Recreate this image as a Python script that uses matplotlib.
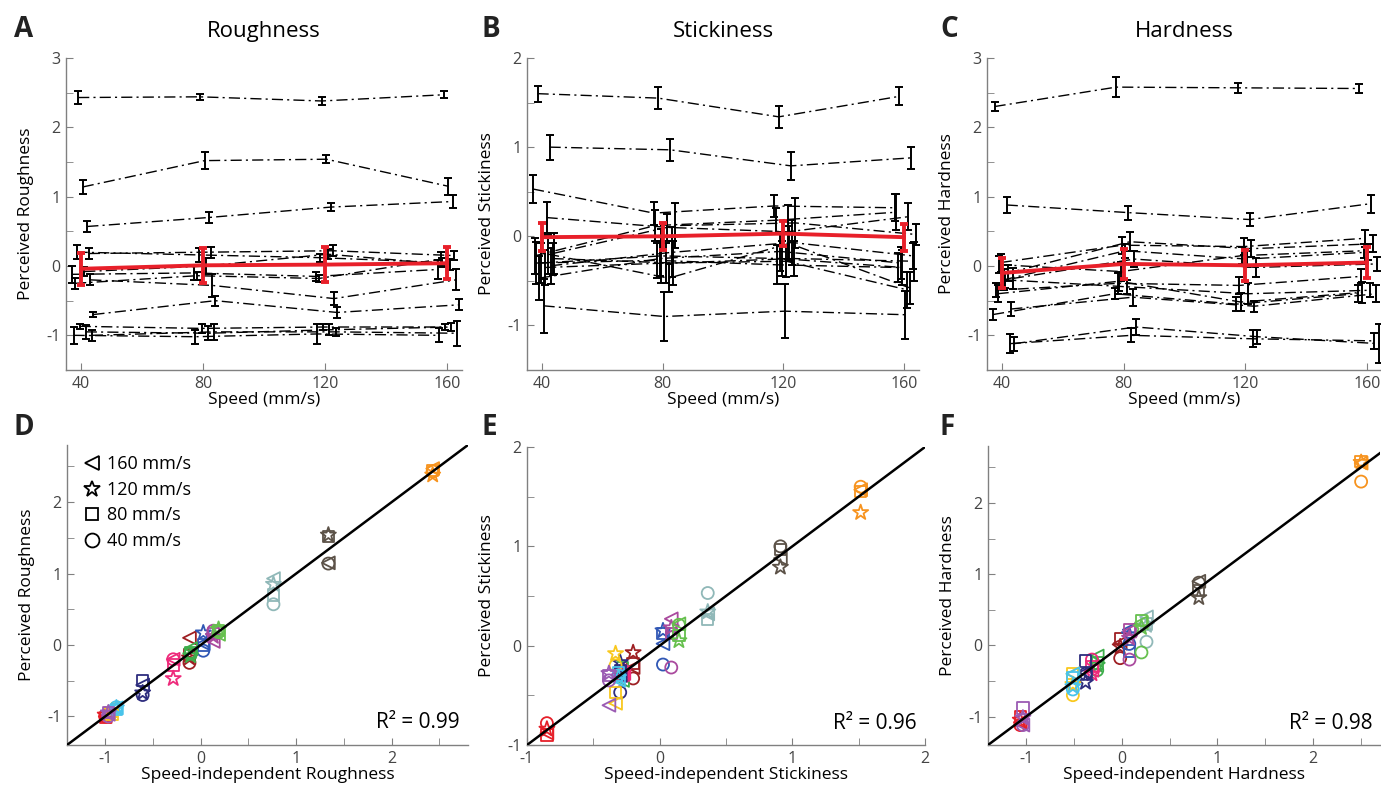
import numpy as np
import matplotlib

matplotlib.use("Agg")
import matplotlib.pyplot as plt
import matplotlib.ticker as mticker
from matplotlib.lines import Line2D

plt.rcParams["font.family"] = ["Open Sans", "DejaVu Sans"]
plt.rcParams["axes.unicode_minus"] = False

# ---------------------------------------------------------------------------
# Data
# ---------------------------------------------------------------------------
speeds = [40, 80, 120, 160]

texture_colors = [
    "#F7931E", "#5C5248", "#90B8B8", "#9E1F23", "#3057B5", "#AA4A9E", "#66C04E",
    "#3DAE4B", "#EE2A7B", "#2E2D7E", "#E6202A", "#F9C81E", "#48C3EA", "#9B5BB3",
]

rough_mean = [
    [2.43, 2.44, 2.38, 2.47], [1.14, 1.52, 1.54, 1.15], [0.57, 0.70, 0.85, 0.93],
    [-0.25, -0.14, -0.18, 0.10], [-0.08, 0.00, 0.17, 0.02], [0.20, 0.16, 0.12, 0.05],
    [0.18, 0.20, 0.22, 0.15], [-0.12, -0.10, -0.15, -0.05], [-0.20, -0.28, -0.47, -0.20],
    [-0.70, -0.50, -0.67, -0.56], [-1.00, -1.02, -0.98, -1.00], [-0.95, -0.97, -0.92, -0.88],
    [-0.87, -0.90, -0.88, -0.88], [-1.00, -0.95, -0.95, -0.97],
]
rough_sem = [
    [0.10, 0.04, 0.06, 0.05], [0.10, 0.12, 0.06, 0.12], [0.08, 0.08, 0.06, 0.10],
    [0.08, 0.06, 0.05, 0.10], [0.07, 0.12, 0.07, 0.08], [0.10, 0.10, 0.06, 0.06],
    [0.08, 0.08, 0.08, 0.07], [0.12, 0.10, 0.06, 0.14], [0.08, 0.16, 0.09, 0.15],
    [0.04, 0.07, 0.08, 0.08], [0.12, 0.10, 0.14, 0.10], [0.10, 0.10, 0.08, 0.06],
    [0.04, 0.06, 0.05, 0.05], [0.08, 0.12, 0.06, 0.18],
]

stick_mean = [
    [1.60, 1.55, 1.34, 1.57], [1.00, 0.97, 0.79, 0.88], [0.53, 0.26, 0.34, 0.32],
    [-0.33, -0.18, -0.07, -0.22], [-0.19, 0.12, 0.15, 0.02], [-0.22, 0.12, 0.18, 0.27],
    [0.21, 0.10, 0.05, 0.22], [-0.30, -0.22, -0.25, -0.35], [-0.25, -0.30, -0.25, -0.28],
    [-0.47, -0.25, -0.17, -0.30], [-0.78, -0.90, -0.84, -0.88], [-0.20, -0.47, -0.08, -0.58],
    [-0.30, -0.27, -0.32, -0.35], [-0.35, -0.30, -0.28, -0.60],
]
stick_sem = [
    [0.09, 0.12, 0.12, 0.10], [0.14, 0.12, 0.16, 0.12], [0.16, 0.13, 0.12, 0.15],
    [0.20, 0.28, 0.25, 0.15], [0.23, 0.25, 0.28, 0.12], [0.20, 0.17, 0.14, 0.20],
    [0.17, 0.15, 0.30, 0.15], [0.22, 0.30, 0.20, 0.20], [0.18, 0.25, 0.20, 0.22],
    [0.25, 0.20, 0.22, 0.18], [0.30, 0.28, 0.30, 0.27], [0.22, 0.16, 0.20, 0.18],
    [0.24, 0.20, 0.22, 0.16], [0.20, 0.22, 0.18, 0.20],
]

hard_mean = [
    [2.30, 2.58, 2.57, 2.56], [0.88, 0.77, 0.67, 0.90], [0.05, 0.30, 0.28, 0.40],
    [-0.18, 0.10, -0.02, 0.03], [0.02, -0.08, 0.15, 0.22], [-0.20, 0.22, 0.10, 0.20],
    [-0.10, 0.35, 0.25, 0.32], [-0.35, -0.25, -0.28, -0.15], [-0.20, -0.30, -0.40, -0.35],
    [-0.40, -0.22, -0.52, -0.38], [-1.12, -1.00, -1.05, -1.08], [-0.70, -0.40, -0.55, -0.40],
    [-0.62, -0.45, -0.58, -0.40], [-1.12, -0.88, -1.02, -1.12],
]
hard_sem = [
    [0.07, 0.14, 0.07, 0.07], [0.12, 0.10, 0.10, 0.13], [0.13, 0.12, 0.12, 0.12],
    [0.15, 0.12, 0.14, 0.10], [0.12, 0.14, 0.12, 0.10], [0.15, 0.10, 0.12, 0.12],
    [0.12, 0.14, 0.12, 0.12], [0.10, 0.15, 0.12, 0.10], [0.12, 0.10, 0.15, 0.10],
    [0.12, 0.14, 0.13, 0.15], [0.14, 0.10, 0.12, 0.12], [0.08, 0.08, 0.10, 0.12],
    [0.10, 0.12, 0.08, 0.12], [0.10, 0.12, 0.10, 0.28],
]

# grand mean across textures (red)
rough_grand = [-0.04, 0.01, 0.02, 0.04]
rough_grand_err = [0.23, 0.25, 0.25, 0.23]
stick_grand = [-0.01, 0.00, 0.03, -0.01]
stick_grand_err = [0.16, 0.15, 0.14, 0.15]
hard_grand = [-0.10, 0.03, 0.01, 0.05]
hard_grand_err = [0.22, 0.22, 0.22, 0.22]

r2_values = ["0.99", "0.96", "0.98"]

# ---------------------------------------------------------------------------
# Layout / style
# ---------------------------------------------------------------------------
W, H = 1381, 787
x_jitter = [-1.0, 0.5, 2.0, -2.0, 1.0, -1.5, 2.5, -3.0, 3.0, 4.0, -2.5, 1.5, -0.5, 3.5]
speed_markers = ["o", "s", "*", "<"]
speed_sizes = [75, 66, 130, 85]
RED = "#E8202A"
SPINE = "#808080"
TICKTXT = "#444444"
LABEL_FS = 12.5


def px_rect(l, r, t, b):
    return [l / W, 1 - b / H, (r - l) / W, (b - t) / H]


def style_axes(ax):
    for s in ("top", "right"):
        ax.spines[s].set_visible(False)
    for s in ("left", "bottom"):
        ax.spines[s].set_color(SPINE)
        ax.spines[s].set_linewidth(1.0)
    ax.tick_params(which="both", direction="in", length=5, color=SPINE,
                   labelcolor=TICKTXT, labelsize=11.5, pad=4)


fig = plt.figure(figsize=(W / 100, H / 100), dpi=100, facecolor="white")

top_rects = [px_rect(66, 462, 58, 370), px_rect(527, 919, 58, 370),
             px_rect(987, 1382, 58, 370)]
bot_rects = [px_rect(67, 468, 445, 745), px_rect(527, 925, 447, 745),
             px_rect(988, 1380, 446, 745)]

panels = [
    ("Roughness", rough_mean, rough_sem, rough_grand, rough_grand_err, (-1.5, 3)),
    ("Stickiness", stick_mean, stick_sem, stick_grand, stick_grand_err, (-1.5, 2)),
    ("Hardness", hard_mean, hard_sem, hard_grand, hard_grand_err, (-1.5, 3)),
]
bot_lims = [((-1.4, 2.8), (-1.4, 2.8)), ((-1, 2), (-1, 2)), ((-1.4, 2.7), (-1.4, 2.8))]
letters_top = ["A", "B", "C"]
letters_bot = ["D", "E", "F"]
letter_x = [14, 481, 940]

dashdot = (0, (8, 3, 1.5, 3))

for k, (name, means, sems, gm, ge, ylim) in enumerate(panels):
    # ── top: perceived value vs speed ──────────────────────────────────────
    ax = fig.add_axes(top_rects[k])
    style_axes(ax)
    for i in range(len(means)):
        off = x_jitter[(i + 5 * k) % len(x_jitter)]
        xs = [s + off for s in speeds]
        ax.errorbar(xs, means[i], yerr=sems[i], color="black", lw=1.0,
                    ls=dashdot, elinewidth=1.4, capsize=3.2, capthick=1.4, zorder=2)
    ax.errorbar(speeds, gm, yerr=ge, color=RED, lw=2.8, elinewidth=2.8,
                capsize=3, capthick=2.8, zorder=5)
    ax.set_xlim(35, 165)
    ax.set_ylim(*ylim)
    ax.set_xticks(speeds)
    ax.yaxis.set_major_locator(mticker.MultipleLocator(1))
    ax.yaxis.set_minor_locator(mticker.MultipleLocator(0.5))
    ax.set_xlabel("Speed (mm/s)", fontsize=LABEL_FS, labelpad=0)
    ax.set_ylabel(f"Perceived {name}", fontsize=LABEL_FS, labelpad=9)
    ax.set_title(name, fontsize=16, pad=15)
    fig.text(letter_x[k] / W, 1 - 37 / H, letters_top[k], fontsize=20,
             fontweight="bold", color="#222222")

    # ── bottom: perceived vs speed-independent value ──────────────────────
    bx = fig.add_axes(bot_rects[k])
    style_axes(bx)
    for i in range(len(means)):
        xi = np.mean(means[i])
        for j in range(len(speeds)):
            bx.scatter(xi, means[i][j], s=speed_sizes[j], marker=speed_markers[j],
                       facecolors="none", edgecolors=texture_colors[i],
                       linewidths=1.3, zorder=3)
    bx.axline((0, 0), slope=1, color="black", lw=1.8, zorder=4)
    bx.set_xlim(*bot_lims[k][0])
    bx.set_ylim(*bot_lims[k][1])
    for a in (bx.xaxis, bx.yaxis):
        a.set_major_locator(mticker.MultipleLocator(1))
        a.set_minor_locator(mticker.MultipleLocator(0.5))
    bx.set_xlabel(f"Speed-independent {name}", fontsize=LABEL_FS, labelpad=0)
    bx.set_ylabel(f"Perceived {name}", fontsize=LABEL_FS, labelpad=9)
    bx.text(0.98, 0.055, f"R² = {r2_values[k]}", transform=bx.transAxes,
            ha="right", va="baseline", fontsize=15)
    fig.text(letter_x[k] / W, 1 - 435 / H, letters_bot[k], fontsize=20,
             fontweight="bold", color="#222222")

    if k == 0:
        handles = [Line2D([], [], ls="none", marker=m, markersize=ms,
                          markerfacecolor="none", markeredgecolor="black",
                          markeredgewidth=1.3)
                   for m, ms in zip(["<", "*", "s", "o"], [10, 12, 9, 10])]
        labels = ["160 mm/s", "120 mm/s", "80 mm/s", "40 mm/s"]
        bx.legend(handles, labels, loc="upper left", bbox_to_anchor=(0.0, 1.02),
                  frameon=False, fontsize=13, handlelength=1.0,
                  handletextpad=0.3, labelspacing=0.42, borderpad=0.4)

fig.savefig("out.png", dpi=100, facecolor="white")
